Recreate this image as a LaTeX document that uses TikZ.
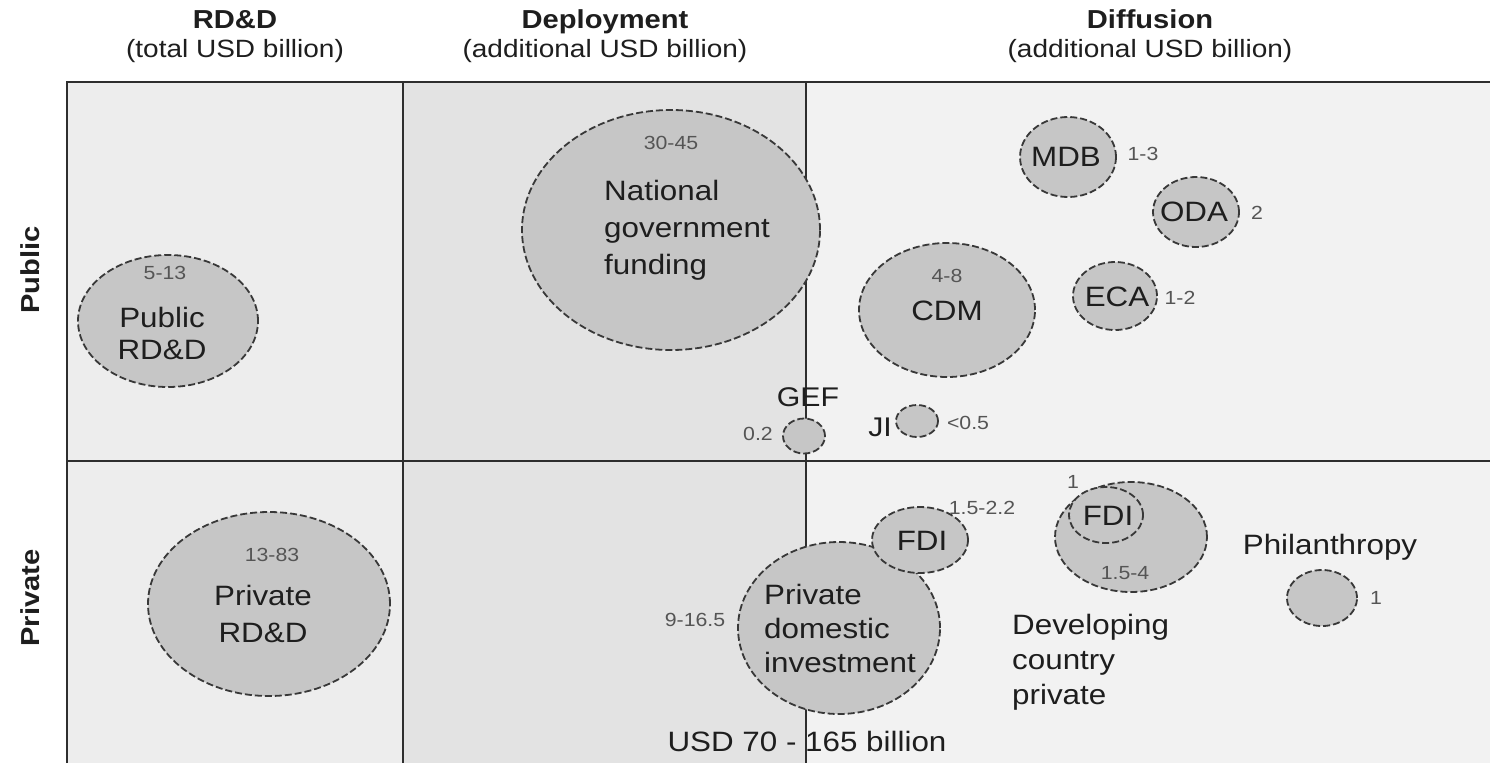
\documentclass[tikz,border=0pt]{standalone}
\usepackage{fontspec}
\setmainfont{Liberation Sans}[FakeStretch=1.12]
\usetikzlibrary{shapes.geometric}
\definecolor{colA}{HTML}{EDEDED}
\definecolor{colB}{HTML}{E3E3E3}
\definecolor{colC}{HTML}{F2F2F2}
\definecolor{bubfill}{HTML}{C6C6C6}
\definecolor{bubline}{HTML}{383838}
\definecolor{frameline}{HTML}{2E2E2E}
\definecolor{numcol}{HTML}{555555}
\definecolor{txtcol}{HTML}{1E1E1E}
\tikzset{
  bub/.style={ellipse, draw=bubline, fill=bubfill, line width=1.8pt,
    dash pattern=on 7pt off 3pt, inner sep=0pt},
  frm/.style={draw=frameline, line width=2.2pt},
  lbl/.style={text=txtcol, inner sep=0pt, font=\fontsize{28}{34}\selectfont},
  num/.style={text=numcol, inner sep=0pt, font=\fontsize{19}{22}\selectfont},
  hdr/.style={text=txtcol, inner sep=0pt, anchor=base, font=\bfseries\fontsize{26}{30}\selectfont},
  sub/.style={text=txtcol, inner sep=0pt, anchor=base, font=\fontsize{25}{30}\selectfont},
  rowl/.style={text=txtcol, inner sep=0pt, rotate=90, font=\bfseries\fontsize{26}{30}\selectfont}
}
\begin{document}
\begin{tikzpicture}[x=1pt,y=-1pt]
\useasboundingbox (0,0) rectangle (1490,763);
\fill[white] (0,0) rectangle (1490,763);
% column backgrounds
\fill[colA] (67,82) rectangle (403,763);
\fill[colB] (403,82) rectangle (806,763);
\fill[colC] (806,82) rectangle (1490,763);
% frame
\coordinate (tl) at (67,82);
\coordinate (tr) at (1490,82);
\coordinate (bl) at (67,763);
\coordinate (ml) at (67,461);
\coordinate (mr) at (1490,461);
\coordinate (v1t) at (403,82);
\coordinate (v1b) at (403,763);
\coordinate (v2t) at (806,82);
\coordinate (v2b) at (806,763);
\draw[frm] (bl) -- (tl) -- (tr);
\draw[frm] (ml) -- (mr);
\draw[frm] (v1t) -- (v1b);
\draw[frm] (v2t) -- (v2b);
% headers
\node[hdr] (h1) at (235,28) {RD\&D};
\node[sub] (h1s) at (235,57) {(total USD billion)};
\node[hdr] (h2) at (605,28) {Deployment};
\node[sub] (h2s) at (605,57) {(additional USD billion)};
\node[hdr] (h3) at (1150,28) {Diffusion};
\node[sub] (h3s) at (1150,57) {(additional USD billion)};
% row labels
\node[rowl] (rpub) at (30,270) {Public};
\node[rowl] (rpriv) at (30,598) {Private};
% bubbles - public row
\node[bub, minimum width=180pt, minimum height=132pt] (pubrdd) at (168,321) {};
\node[bub, minimum width=298pt, minimum height=240pt] (natgov) at (671,230) {};
\node[bub, minimum width=176pt, minimum height=134pt] (cdm) at (947,310) {};
\node[bub, minimum width=96pt, minimum height=80pt] (mdb) at (1068,157) {};
\node[bub, minimum width=86pt, minimum height=70pt] (oda) at (1196,212) {};
\node[bub, minimum width=84pt, minimum height=68pt] (eca) at (1115,296) {};
\node[bub, minimum width=42pt, minimum height=35pt] (gef) at (804,436) {};
\node[bub, minimum width=42pt, minimum height=32pt] (ji) at (917,421) {};
% bubbles - private row
\node[bub, minimum width=242pt, minimum height=184pt] (privrdd) at (269,604) {};
\node[bub, minimum width=202pt, minimum height=172pt] (dom) at (839,628) {};
\node[bub, minimum width=96pt, minimum height=66pt] (fdia) at (920,540) {};
\node[bub, minimum width=152pt, minimum height=110pt] (dev) at (1131,537) {};
\node[bub, minimum width=74pt, minimum height=56pt] (fdib) at (1106,515) {};
\node[bub, minimum width=70pt, minimum height=56pt] (phil) at (1322,598) {};
% texts public row
\node[num] (pubrddv) at (165,273) {5-13};
\node[lbl, align=center, font=\fontsize{28}{32}\selectfont] (pubrddt) at (162,333) {Public\\RD\&D};
\node[num] (natgovv) at (671,143) {30-45};
\node[lbl, align=left, anchor=west, font=\fontsize{28}{37}\selectfont] (natgovt) at (604,230) {National\\government\\funding};
\node[num] (cdmv) at (947,276) {4-8};
\node[lbl] (cdmt) at (947,311) {CDM};
\node[lbl] (mdbt) at (1066,157) {MDB};
\node[num] (mdbv) at (1143,154) {1-3};
\node[lbl] (odat) at (1194,212) {ODA};
\node[num] (odav) at (1257,213) {2};
\node[lbl] (ecat) at (1117,297) {ECA};
\node[num] (ecav) at (1180,298) {1-2};
\node[lbl, font=\fontsize{27}{30}\selectfont] (geft) at (808,397) {GEF};
\node[num] (gefv) at (758,434) {0.2};
\node[lbl, font=\fontsize{27}{30}\selectfont] (jit) at (880,427) {JI};
\node[num] (jiv) at (968,423) {<0.5};
% texts private row
\node[num] (privrddv) at (272,555) {13-83};
\node[lbl, align=center, font=\fontsize{28}{37}\selectfont] (privrddt) at (263,614) {Private\\RD\&D};
\node[lbl, align=left, anchor=west, font=\fontsize{28}{34}\selectfont] (domt) at (764,628) {Private\\domestic\\investment};
\node[num] (domv) at (695,620) {9-16.5};
\node[lbl] (fdiat) at (922,541) {FDI};
\node[num] (fdiav) at (982,508) {1.5-2.2};
\node[lbl] (fdibt) at (1108,516) {FDI};
\node[num] (fdibv) at (1073,482) {1};
\node[num] (devv) at (1125,573) {1.5-4};
\node[lbl, align=left, anchor=west, font=\fontsize{28}{35}\selectfont] (devt) at (1012,662) {Developing\\country\\private};
\node[lbl] (philt) at (1330,547) {Philanthropy};
\node[num] (philv) at (1376,598) {1};
\node[lbl] (total) at (807,741) {USD 70 - 165 billion};
\end{tikzpicture}
\end{document}
